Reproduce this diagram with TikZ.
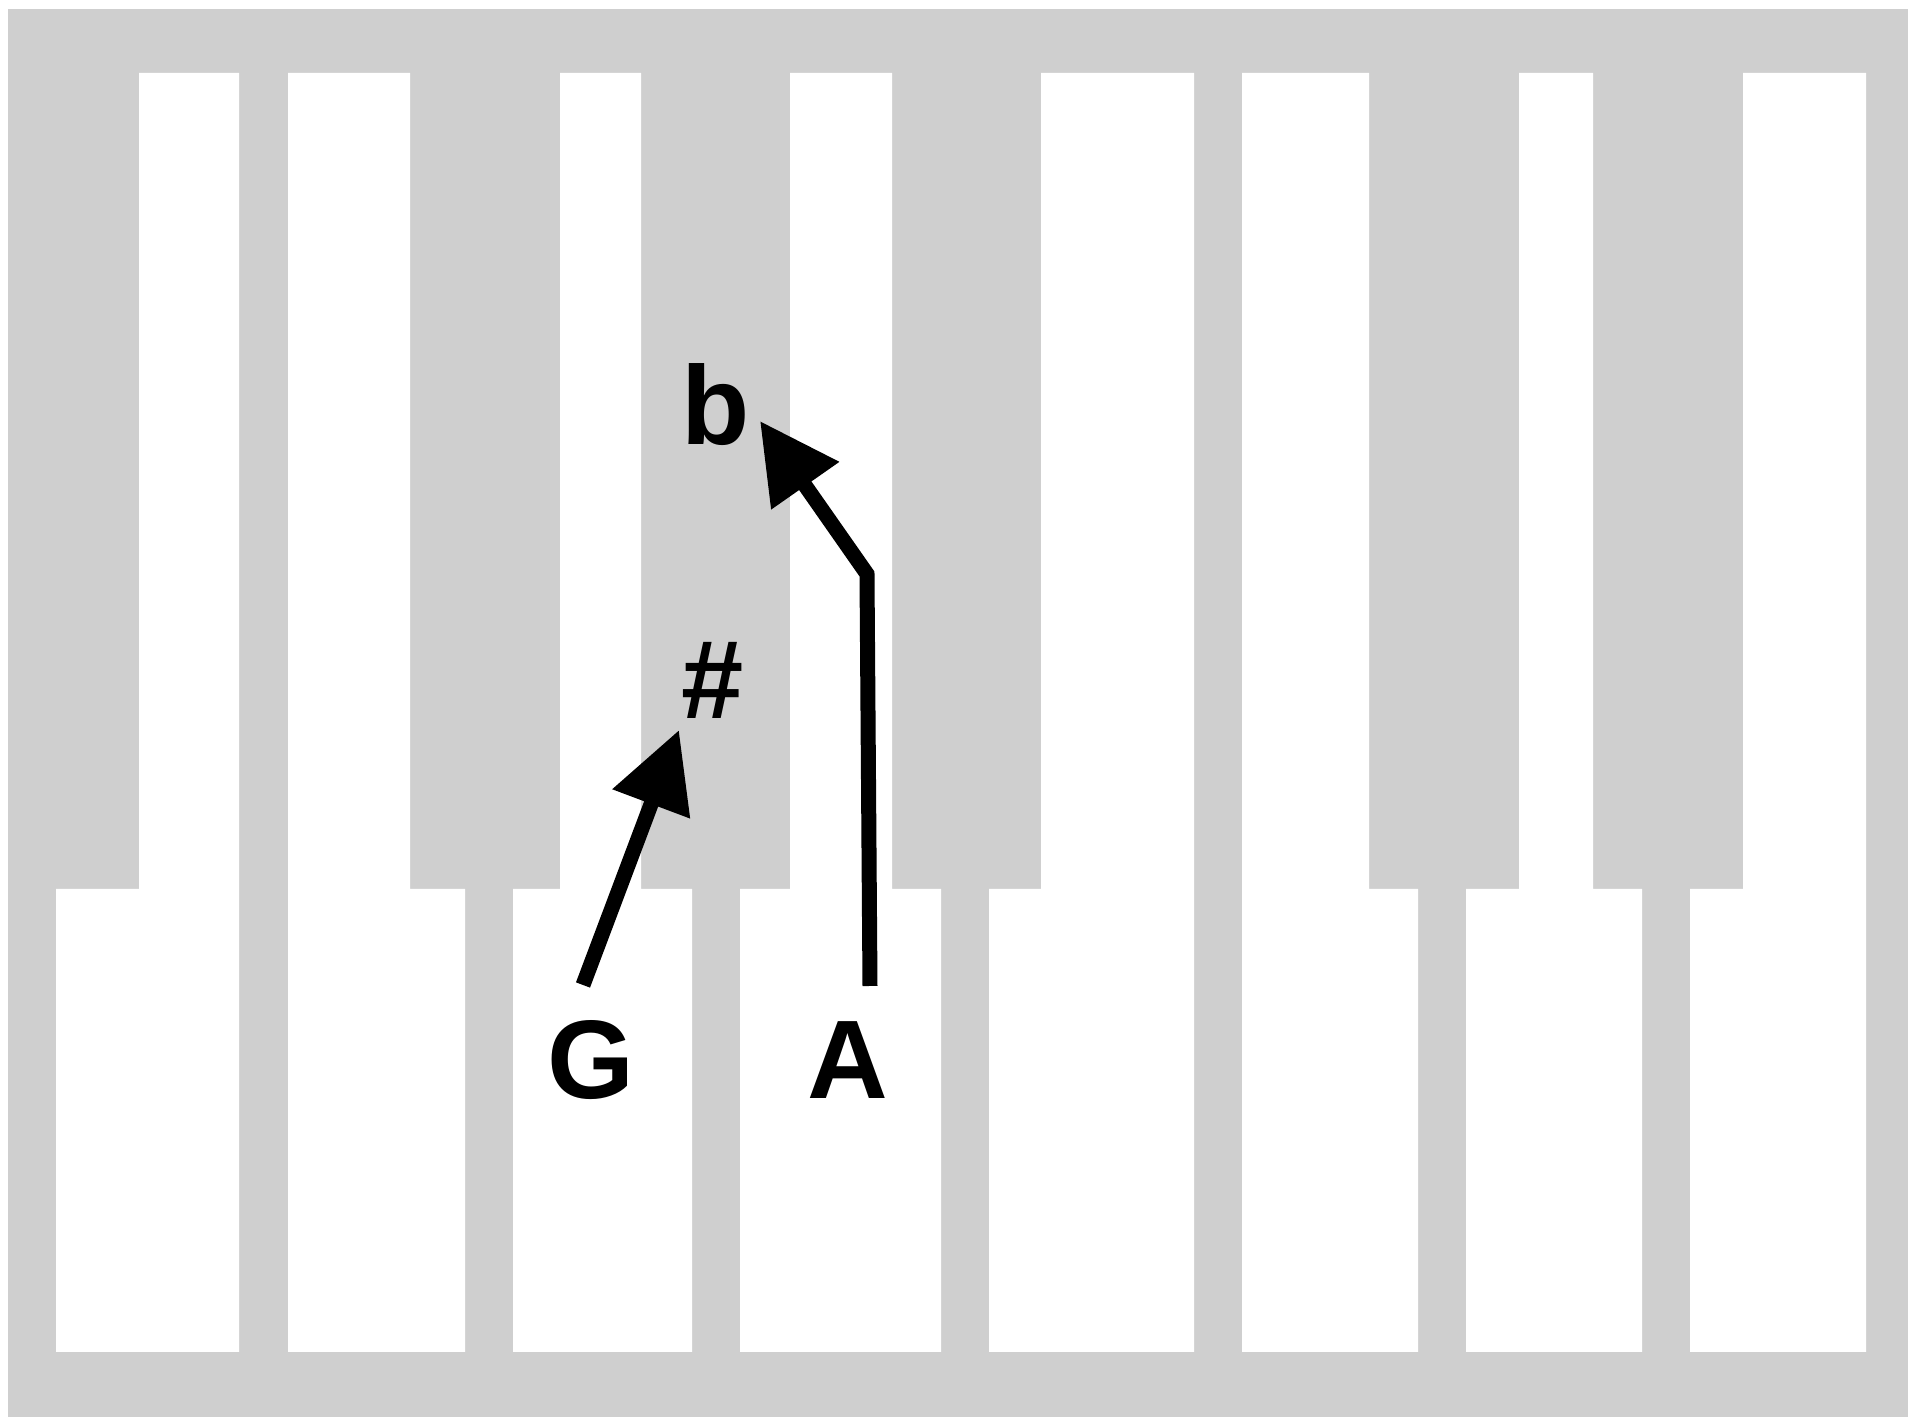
\documentclass[tikz,border=0pt]{standalone}
\usepackage{fontspec}
\setmainfont{Liberation Sans}
\usetikzlibrary{arrows.meta}

\definecolor{keygrey}{RGB}{207,207,207}
\tikzset{
  notelabel/.style={font=\bfseries\fontsize{31.8}{36}\selectfont, inner sep=0pt},
  movearrow/.style={line width=1.5mm, -{Triangle[length=7.9mm,width=7.9mm]}}
}

\begin{document}
\begin{tikzpicture}[x=0.1mm,y=-0.1mm]
  \useasboundingbox (0,0) rectangle (1908,1417);

  % Draw the keyboard frame
  \fill[keygrey] (8,9) rectangle (1908,1417);

  % Draw the white keys (upper strip left/right, lower part left/right)
  \foreach \ul/\ur/\ll/\lr in {139/239/56/239, 288/410/288/465, 560/641/513/692, 790/892/740/941,
      1041/1194/989/1194, 1242/1369/1242/1418, 1519/1593/1466/1642, 1743/1866/1690/1866}
    \fill[white] (\ul,73) -- (\ur,73) -- (\ur,889) -- (\lr,889) -- (\lr,1352)
      -- (\ll,1352) -- (\ll,889) -- (\ul,889) -- cycle;

  % Write the note names and the accidentals
  \node[notelabel] (G) at (591,1060) {G};
  \node[notelabel] (A) at (848,1060) {A};
  \node[notelabel] (sharp) at (713,680) {\#};
  \node[notelabel] (flat) at (716,405) {b};

  % Ends of the arrows
  \coordinate (Gtail) at (583,985);
  \coordinate (sharptip) at (679,730);
  \coordinate (Atail) at (870,986);
  \coordinate (Abend) at (867,574);
  \coordinate (flattip) at (760,421);

  % Draw the arrows
  \draw[movearrow] (Gtail) -- (sharptip);
  \draw[movearrow] (Atail) -- (Abend) -- (flattip);
\end{tikzpicture}
\end{document}
